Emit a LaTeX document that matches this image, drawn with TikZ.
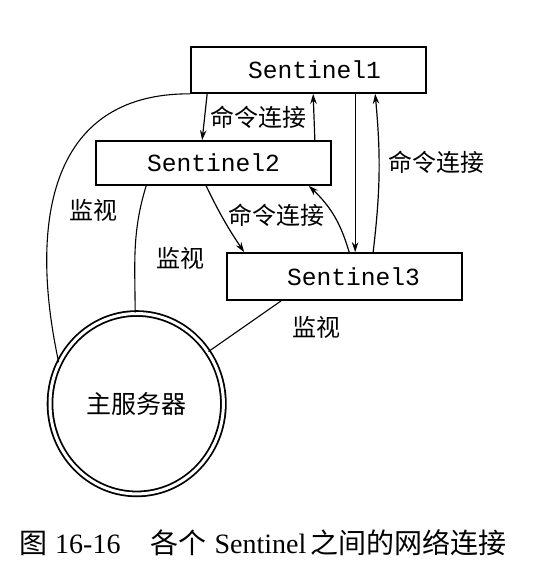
\documentclass[tikz,border=0pt]{standalone}
\usepackage{fontspec}
\setmainfont{Liberation Serif}
\setmonofont{Liberation Mono}
\newfontfamily\cjk{Noto Sans CJK SC}
\usetikzlibrary{arrows.meta,shapes.geometric,calc}
\begin{document}
\begin{tikzpicture}[x=1pt,y=1pt,
  box/.style={draw,line width=1.7pt,minimum width=235pt,inner sep=0pt,font=\ttfamily\fontsize{24.6}{28}\selectfont},
  conn/.style={line width=1.2pt,-{Stealth[length=10pt,width=6.5pt]}},
  mon/.style={line width=1.1pt},
  lab/.style={font=\cjk\fontsize{24}{28}\selectfont,inner sep=0pt}]
\useasboundingbox (0,0) rectangle (552,-587);
% sentinel boxes
\node[box,minimum height=46pt] (S1) at (308.5,-70) {\hspace{12pt}Sentinel1};
\node[box,minimum height=44pt] (S2) at (213.5,-163) {Sentinel2\hspace{18pt}};
\node[box,minimum height=47pt] (S3) at (344.5,-276.5) {\hspace{18pt}Sentinel3};
% master server
\node[draw,ellipse,line width=1.8pt,double,double distance=3pt,minimum width=173.4pt,minimum height=180.4pt,inner sep=0pt,font=\cjk\fontsize{25}{28}\selectfont] (M) at (136.7,-403.7) {主服务器};
% command connections
\draw[conn] ($(S1.south west)+(17,0)$) -- ($(S2.north west)+(107,0)$);
\draw[conn] ($(S2.north east)+(-17,0)$) -- ($(S1.south west)+(123,0)$);
\draw[conn] ($(S1.south west)+(165,0)$) -- ($(S3.north west)+(129,0)$);
\draw[conn] ($(S3.north west)+(147,0)$) to[bend right=6] ($(S1.south west)+(185,0)$);
\draw[conn] ($(S2.south west)+(111,0)$) to[bend right=4] ($(S3.north west)+(18,0)$);
\draw[conn] ($(S3.north west)+(123,0)$) to[bend right=15] ($(S2.south east)+(-23,0)$);
% monitoring lines
\draw[mon] (S1.south west) .. controls (45,-93) and (30,-230) .. (M.152);
\draw[mon] ($(S2.south west)+(51,0)$) to[out=-107,in=90] (M.91);
\draw[mon] ($(S3.south west)+(55,0)$) -- (M.36);
% labels
\node[lab] (L1) at (258,-117) {命令连接};
\node[lab] (L2) at (436,-162) {命令连接};
\node[lab] (L3) at (276,-215) {命令连接};
\node[lab] (W1) at (93,-210) {监视};
\node[lab] (W2) at (180,-258) {监视};
\node[lab] (W3) at (316,-327) {监视};
% caption
\node[anchor=west,inner sep=0pt,font=\fontsize{28}{32}\selectfont] (cap) at (19,-543) {{\cjk 图}\hspace{8pt}16-16\hspace{30pt}{\cjk 各个}\hspace{8pt}Sentinel\hspace{4pt}{\cjk 之间的网络连接}};
\end{tikzpicture}
\end{document}
